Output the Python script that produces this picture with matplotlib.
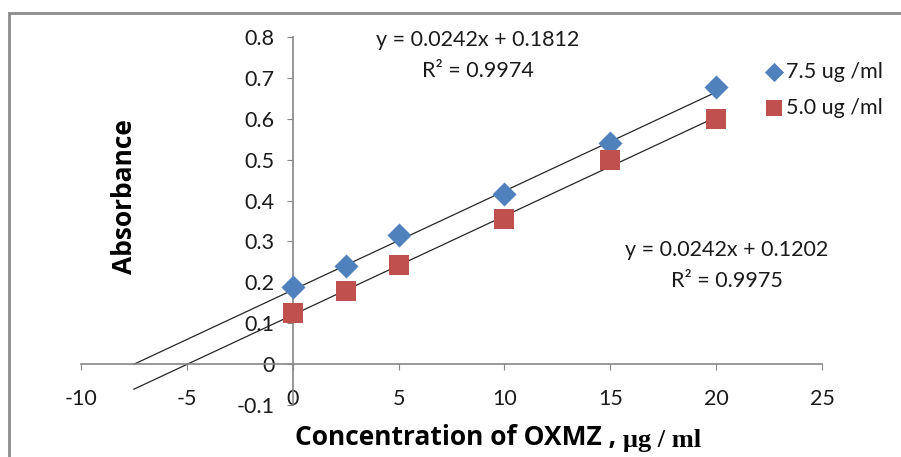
import matplotlib
matplotlib.use("Agg")
import matplotlib.pyplot as plt
from matplotlib.patches import Rectangle

plt.rcParams['font.family'] = ['Lato', 'DejaVu Sans']

conc = [0, 2.5, 5, 10, 15, 20]
abs_75 = [0.188, 0.241, 0.315, 0.415, 0.540, 0.678]
abs_50 = [0.125, 0.178, 0.242, 0.355, 0.500, 0.600]
labels = ['7.5 ug /ml', '5.0 ug /ml']
slopes = [0.0242, 0.0242]
intercepts = [0.1812, 0.1202]
r2 = [0.9974, 0.9975]
trend_x = [-7.5, 20]

xticks = [-10, -5, 0, 5, 10, 15, 20, 25]
yticks = [-0.1, 0, 0.1, 0.2, 0.3, 0.4, 0.5, 0.6, 0.7, 0.8]

W, H = 901, 457
fig = plt.figure(figsize=(W / 100, H / 100), dpi=100)
ax = fig.add_axes([81 / W, 1 - 405 / H, 741 / W, 368 / H])

blue = '#4F81BD'
red = '#C0504D'
gray = '#868686'
fs = 15.5

# trendlines
for m, b in zip(slopes, intercepts):
    ax.plot(trend_x, [m * x + b for x in trend_x], color='#262626', lw=0.9, zorder=2)

ax.scatter(conc, abs_75, marker='D', s=150, color=blue, label=labels[0], zorder=3, linewidths=0)
ax.scatter(conc, abs_50, marker='s', s=200, color=red, label=labels[1], zorder=3, linewidths=0)

ax.set_xlim(-10, 25)
ax.set_ylim(-0.1, 0.8)
ax.set_xticks(xticks)
ax.set_yticks(yticks)
ax.set_xticklabels([str(t) for t in xticks])
ax.set_yticklabels(['-0.1', '0'] + ['%.1f' % t for t in yticks[2:]])

ax.spines['left'].set_position(('data', 0))
ax.spines['bottom'].set_position(('data', 0))
ax.spines['top'].set_visible(False)
ax.spines['right'].set_visible(False)
for s in ('left', 'bottom'):
    ax.spines[s].set_color(gray)
    ax.spines[s].set_linewidth(1.2)
ax.tick_params(axis='x', direction='out', length=4, color=gray, pad=14, labelsize=fs, labelcolor='#1a1a1a')
ax.tick_params(axis='y', direction='out', length=4, color=gray, pad=9, labelsize=fs, labelcolor='#1a1a1a')
ax.patch.set_visible(False)

# equations
eq_pos = [(478, 40), (727, 250)]
for (px, py), m, b, r in zip(eq_pos, slopes, intercepts, r2):
    fig.text(px / W, 1 - py / H, 'y = %.4fx + %.4f' % (m, b), ha='center', va='center', fontsize=fs, color='#1a1a1a')
    fig.text(px / W, 1 - (py + 31) / H, 'R² = %.4f' % r, ha='center', va='center', fontsize=fs, color='#1a1a1a')

leg = fig.legend(loc='center left', bbox_to_anchor=(752 / W, 1 - 90 / H), frameon=False,
                 fontsize=fs, handletextpad=0.1, handlelength=1.0, labelspacing=0.75,
                 scatterpoints=1, borderpad=0, markerscale=0.8)
for t in leg.get_texts():
    t.set_color('#1a1a1a')

# axis titles
fig.text(125 / W, 1 - 197 / H, 'Absorbance', rotation=90, ha='center', va='center',
         fontsize=19, fontweight='bold', family='Open Sans')
t1 = fig.text(295 / W, 1 - 438 / H, 'Concentration of OXMZ , ', ha='left', va='center',
              fontsize=19, fontweight='bold', family='Open Sans')
fig.texts.append(matplotlib.text.Annotation('μg / ml', xy=(1, 0), xycoords=t1, va='bottom', ha='left',
                 fontsize=19, fontweight='bold', family='Liberation Serif'))
fig.texts[-1].set_figure(fig)

# outer chart border
fig.patches.append(Rectangle((9 / W, -0.1), 1.2, 1 - 13 / H + 0.1, transform=fig.transFigure,
                             fill=False, edgecolor='#8c8c8c', lw=2))

fig.savefig('out.png', dpi=100)
